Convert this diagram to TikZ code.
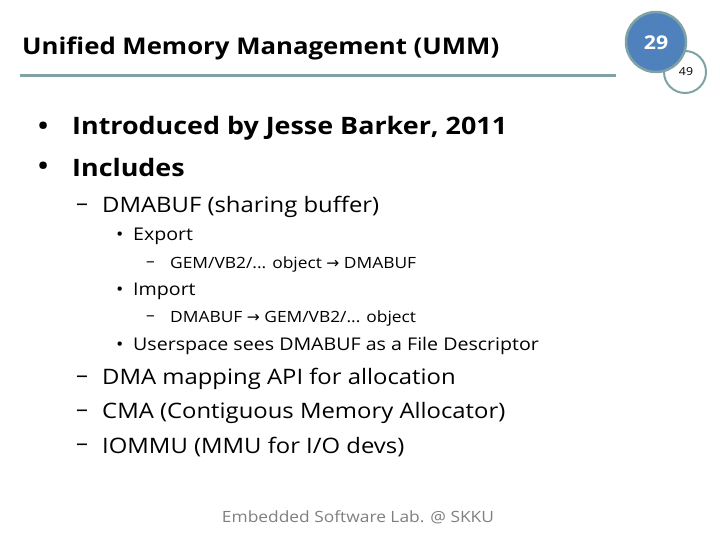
\documentclass[tikz,border=0pt]{standalone}
\usepackage{fontspec}
\setmainfont{Open Sans}[FakeStretch=1.12]
\newfontfamily\arr{DejaVu Sans}
\definecolor{teal}{HTML}{7FA3A5}
\definecolor{blu}{HTML}{4F81BD}
\begin{document}
\begin{tikzpicture}[x=1pt,y=-1pt,
 t/.style={anchor=west,inner sep=0pt},
 l1/.style={t,font=\fontsize{24}{26}\selectfont\bfseries},
 l2/.style={t,font=\fontsize{21.3}{24}\selectfont},
 l3/.style={t,font=\fontsize{17.5}{19}\selectfont},
 l4/.style={t,font=\fontsize{15.5}{17}\selectfont}]
\useasboundingbox[fill=white] (0,0) rectangle (720,540);
\draw[teal,line width=3pt] (20,76) -- (616,76);
\node[t,font=\fontsize{23}{24}\selectfont\bfseries] (title) at (22,48) {Unified Memory Management (UMM)};
\draw[teal,line width=2pt,fill=white] (685,72) circle (21);
\node[font=\fontsize{11}{13}\selectfont] (p2) at (686,72) {49};
\draw[teal,line width=2.5pt,fill=blu] (656,42) circle (30);
\node[text=white,font=\fontsize{19}{22}\selectfont\bfseries] (p1) at (656,43) {29};
\node[l1] (b1) at (38,128) {•};
\node[l1] (a1) at (72,128) {Introduced by Jesse Barker, 2011};
\node[l1] (b2) at (38,168) {•};
\node[l1] (a2) at (72,168) {Includes};
\node[l2] (d1) at (76,207) {–};
\node[l2] (c1) at (102,207) {DMABUF (sharing buffer)};
\node[l3] (e1) at (116,236) {•};
\node[l3] (f1) at (133,236) {Export};
\node[l4] (g1) at (146,264) {–};
\node[l4] (h1) at (170,264) {GEM/VB2/... object {\arr→} DMABUF};
\node[l3] (e2) at (116,291) {•};
\node[l3] (f2) at (133,291) {Import};
\node[l4] (g2) at (146,318) {–};
\node[l4] (h2) at (170,318) {DMABUF {\arr→} GEM/VB2/... object};
\node[l3] (e3) at (116,346) {•};
\node[l3] (f3) at (133,346) {Userspace sees DMABUF as a File Descriptor};
\node[l2] (d2) at (76,379) {–};
\node[l2] (c2) at (102,379) {DMA mapping API for allocation};
\node[l2] (d3) at (76,413) {–};
\node[l2] (c3) at (102,413) {CMA (Contiguous Memory Allocator)};
\node[l2] (d4) at (76,447) {–};
\node[l2] (c4) at (102,447) {IOMMU (MMU for I/O devs)};
\node[text=gray,font=\fontsize{15.5}{18}\selectfont] (foot) at (358,517) {Embedded Software Lab. @ SKKU};
\end{tikzpicture}
\end{document}
